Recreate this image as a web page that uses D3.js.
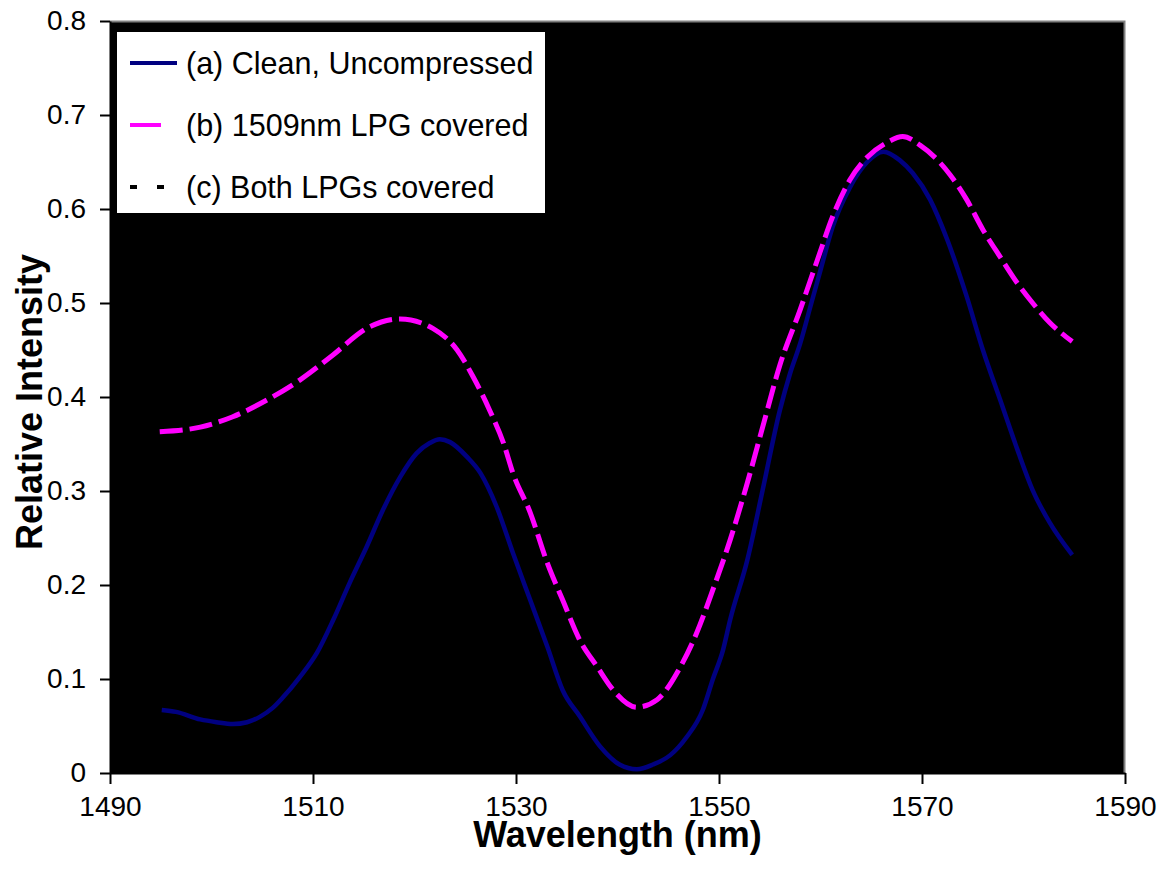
<!DOCTYPE html>
<html>
<head>
<meta charset="utf-8">
<script src="https://cdn.jsdelivr.net/npm/d3@7"></script>
<style>
  body { margin: 0; background: #fff; }
  svg { font-family: "Liberation Sans", Arial, sans-serif; }
</style>
</head>
<body>
<div id="chart"></div>
<script>
// Series (a) Clean, Uncompressed
const aWave = [1495.1, 1496.5, 1498.9, 1500.5, 1502.1, 1503.5, 1504.8, 1506.0, 1507.0, 1508.7,
  1510.4, 1512.0, 1513.6, 1515.3, 1516.9, 1518.6, 1520.2, 1521.5, 1522.5, 1523.5,
  1525.2, 1526.5, 1528.1, 1529.7, 1531.4, 1533.1, 1534.6, 1536.3, 1538.3, 1540.2,
  1541.9, 1543.5, 1545.2, 1546.8, 1548.4, 1549.4, 1550.4, 1551.1, 1552.8, 1554.3,
  1556.0, 1557.0, 1558.0, 1559.0, 1560.0, 1561.2, 1562.9, 1564.6, 1566.2, 1567.8,
  1569.1, 1570.8, 1572.5, 1574.4, 1576.0, 1577.7, 1579.4, 1580.9, 1582.6, 1584.8];
const aValues = [0.067, 0.065, 0.057, 0.054, 0.052, 0.054, 0.060, 0.069, 0.080, 0.102,
  0.128, 0.163, 0.202, 0.241, 0.280, 0.315, 0.340, 0.351, 0.355, 0.352,
  0.336, 0.319, 0.283, 0.234, 0.184, 0.134, 0.088, 0.060, 0.028, 0.009,
  0.004, 0.009, 0.019, 0.038, 0.067, 0.100, 0.131, 0.163, 0.227, 0.301,
  0.386, 0.425, 0.457, 0.496, 0.535, 0.581, 0.623, 0.650, 0.661, 0.652,
  0.638, 0.610, 0.567, 0.507, 0.450, 0.397, 0.344, 0.301, 0.266, 0.232];

// Series (b) 1509nm LPG covered
const bWave = [1494.9, 1498.9, 1502.1, 1505.5, 1508.7, 1512.0, 1515.3, 1518.6, 1521.8, 1524.2,
  1525.8, 1527.4, 1528.8, 1529.7, 1531.4, 1533.1, 1534.6, 1536.3, 1538.0, 1539.6,
  1541.9, 1543.9, 1546.2, 1547.8, 1549.4, 1551.1, 1552.8, 1554.3, 1556.0, 1558.0,
  1559.7, 1561.2, 1562.9, 1564.6, 1566.6, 1568.1, 1569.8, 1571.8, 1572.8, 1574.4,
  1576.0, 1577.7, 1579.4, 1580.9, 1582.6, 1584.8];
const bValues = [0.363, 0.368, 0.379, 0.397, 0.418, 0.445, 0.473, 0.483, 0.473, 0.450,
  0.421, 0.386, 0.350, 0.319, 0.277, 0.223, 0.184, 0.141, 0.113, 0.088,
  0.070, 0.078, 0.113, 0.149, 0.195, 0.248, 0.309, 0.368, 0.434, 0.493,
  0.546, 0.592, 0.631, 0.655, 0.671, 0.677, 0.668, 0.649, 0.636, 0.610,
  0.578, 0.549, 0.521, 0.500, 0.479, 0.459];

// Series (c) Both LPGs covered (lies on top of b)
const cWave = [1494.9, 1498.9, 1502.1, 1505.5, 1508.7, 1512.0, 1515.3, 1518.6, 1521.8, 1524.2,
  1525.8, 1527.4, 1528.8, 1529.7, 1531.4, 1533.1, 1534.6, 1536.3, 1538.0, 1539.6,
  1541.9, 1543.9, 1546.2, 1547.8, 1549.4, 1551.1, 1552.8, 1554.3, 1556.0, 1558.0,
  1559.7, 1561.2, 1562.9, 1564.6, 1566.6, 1568.1, 1569.8, 1571.8, 1572.8, 1574.4,
  1576.0, 1577.7, 1579.4, 1580.9, 1582.6, 1584.8];
const cValues = [0.363, 0.368, 0.379, 0.397, 0.418, 0.445, 0.473, 0.483, 0.473, 0.450,
  0.421, 0.386, 0.350, 0.319, 0.277, 0.223, 0.184, 0.141, 0.113, 0.088,
  0.070, 0.078, 0.113, 0.149, 0.195, 0.248, 0.309, 0.368, 0.434, 0.493,
  0.546, 0.592, 0.631, 0.655, 0.671, 0.677, 0.668, 0.649, 0.636, 0.610,
  0.578, 0.549, 0.521, 0.500, 0.479, 0.459];

const seriesNames = ["(a) Clean, Uncompressed", "(b) 1509nm LPG covered", "(c) Both LPGs covered"];
const xTicks = [1490, 1510, 1530, 1550, 1570, 1590];
const yTicks = [0, 0.1, 0.2, 0.3, 0.4, 0.5, 0.6, 0.7, 0.8];

const margin = { top: 21, right: 39, bottom: 105, left: 110 };
const width = 1164 - margin.left - margin.right;
const height = 878 - margin.top - margin.bottom;

const svg = d3.select("#chart")
  .append("svg")
  .attr("width", 1164)
  .attr("height", 878)
  .append("g")
  .attr("transform", `translate(${margin.left}, ${margin.top})`);

const x = d3.scaleLinear().domain([1490, 1590]).range([0, width]);
const y = d3.scaleLinear().domain([0, 0.8]).range([height, 0]);

// plot area
svg.append("rect")
  .attr("width", width)
  .attr("height", height)
  .attr("fill", "#000");

// gray border on top and right
svg.append("path")
  .attr("d", `M0,0.5H${width - 0.5}V${height}`)
  .attr("fill", "none")
  .attr("stroke", "#808080")
  .attr("stroke-width", 2);

// axes
const xAxis = svg.append("g")
  .attr("transform", `translate(0, ${height})`)
  .call(d3.axisBottom(x).tickValues(xTicks).tickFormat(d3.format("d")).tickSize(11).tickSizeOuter(0).tickPadding(12));
const yAxis = svg.append("g")
  .call(d3.axisLeft(y).tickValues(yTicks).tickFormat(d => d === 0 ? "0" : d3.format(".1f")(d)).tickSize(10).tickSizeOuter(0).tickPadding(14));

[xAxis, yAxis].forEach(g => {
  g.selectAll("path, line").attr("stroke", "#000").attr("stroke-width", 2);
  g.selectAll("text").style("font-size", "28px").attr("fill", "#000");
});

// lines
const toPoints = (w, v) => w.map((d, i) => ({ w: d, v: v[i] }));
const line = d3.line()
  .x(d => x(d.w))
  .y(d => y(d.v))
  .curve(d3.curveMonotoneX);

const series = [
  { pts: toPoints(cWave, cValues), color: "#000", dash: "10,10", width: 4 },
  { pts: toPoints(aWave, aValues), color: "#000080", dash: null, width: 4.5 },
  { pts: toPoints(bWave, bValues), color: "#ff00ff", dash: "23,7", width: 5 }
];

series.forEach(s => {
  svg.append("path")
    .datum(s.pts)
    .attr("fill", "none")
    .attr("stroke", s.color)
    .attr("stroke-width", s.width)
    .attr("stroke-dasharray", s.dash)
    .attr("d", line);
});

// legend
const legend = svg.append("g").attr("transform", "translate(7, 11)");
legend.append("rect")
  .attr("width", 428)
  .attr("height", 181)
  .attr("fill", "#fff");

const legendItems = [
  { name: seriesNames[0], color: "#000080", dash: null },
  { name: seriesNames[1], color: "#ff00ff", dash: "31,16" },
  { name: seriesNames[2], color: "#000", dash: "7,20" }
];

legendItems.forEach((d, i) => {
  const gy = 31 + i * 62;
  legend.append("line")
    .attr("x1", 13).attr("x2", 60)
    .attr("y1", gy).attr("y2", gy)
    .attr("stroke", d.color)
    .attr("stroke-width", 4)
    .attr("stroke-dasharray", d.dash);
  legend.append("text")
    .attr("x", 69)
    .attr("y", gy)
    .attr("dy", "0.36em")
    .style("font-size", "30.5px")
    .text(d.name);
});

// axis titles
svg.append("text")
  .attr("text-anchor", "middle")
  .attr("x", x(1540))
  .attr("y", height + 74)
  .text("Wavelength (nm)")
  .style("font-size", "36px")
  .style("font-weight", "bold");

svg.append("text")
  .attr("text-anchor", "middle")
  .attr("transform", `translate(${-68}, ${height / 2 + 5}) rotate(-90)`)
  .text("Relative Intensity")
  .style("font-size", "36px")
  .style("font-weight", "bold");
</script>
</body>
</html>
